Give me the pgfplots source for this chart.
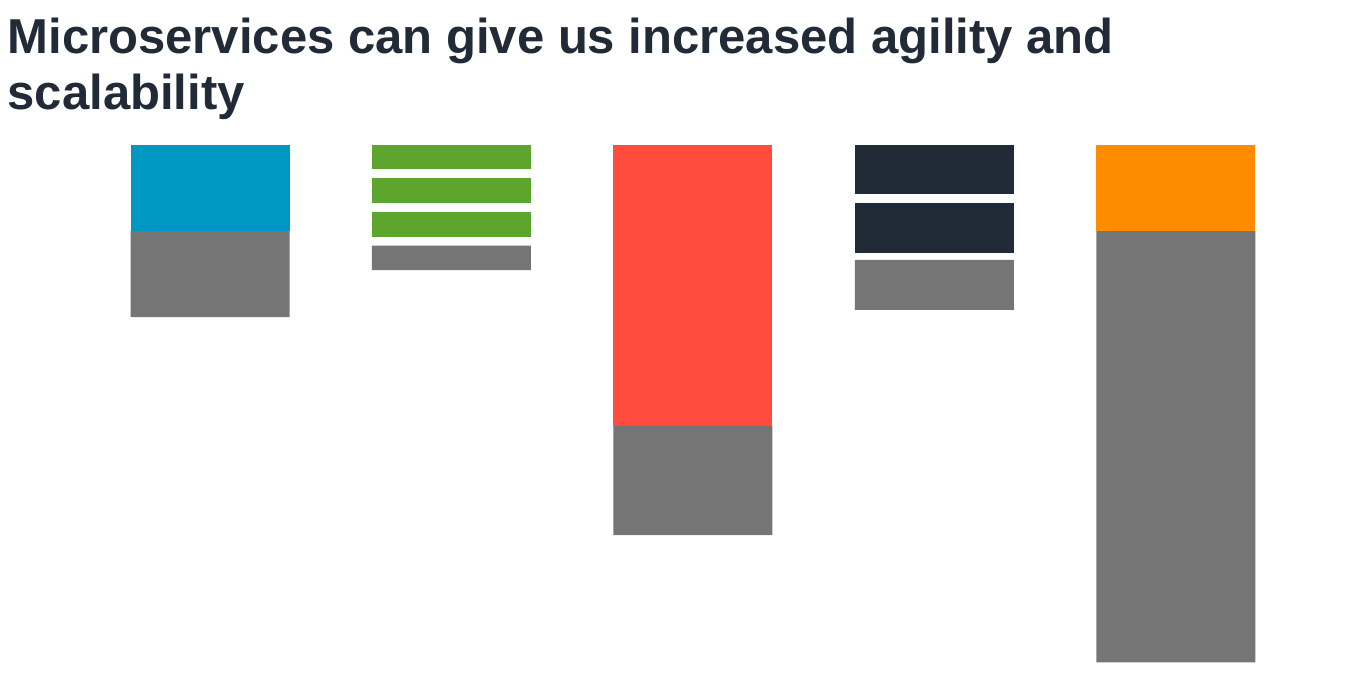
\documentclass[border=0pt]{standalone}
\usepackage{pgfplots}
\pgfplotsset{compat=1.18}
\usepackage{pgfplotstable}
\usepackage{fontspec}
\setmainfont{Liberation Sans}
\definecolor{cBlue}{HTML}{0098C3}
\definecolor{cGreen}{HTML}{5EA52E}
\definecolor{cRed}{HTML}{FF4C3D}
\definecolor{cDark}{HTML}{212B38}
\definecolor{cOrange}{HTML}{FF8C00}
\definecolor{cGray}{HTML}{757575}
\definecolor{cTitle}{HTML}{212A37}
\pgfplotstableread{
x blue green1 red dark1 orange gap1 green2 dark2 gap2 green3 gap3 gray
0 1 0 0 0 0 0 0 0 0 0 0 1
1 0 0.285 0 0 0 0.101 0.290 0 0.104 0.290 0.101 0.285
2 0 0 3.261 0 0 0 0 0 0 0 0 1.264
3 0 0 0 0.575 0 0.101 0 0.580 0.081 0 0 0.580
4 0 0 0 0 1 0 0 0 0 0 0 5.0
}\data
\begin{document}
\begin{tikzpicture}
\path[use as bounding box] (0bp,0bp) rectangle (1352bp,698bp);
\node[anchor=base west, inner sep=0pt, font=\fontsize{49.2}{57}\selectfont\bfseries, text=cTitle] at (7.5bp,644.3bp) {Microservices can give us increased agility and};
\node[anchor=base west, inner sep=0pt, font=\fontsize{49.2}{57}\selectfont\bfseries, text=cTitle] at (7.5bp,588.3bp) {scalability};
\begin{axis}[at={(89.3bp,35.7bp)}, anchor=south west, scale only axis,
  width=1207.2bp, height=517.8bp, xmin=-0.5, xmax=4.5, ymin=0, ymax=6,
  y dir=reverse, hide axis, ybar stacked, bar width=159bp, clip=false]
\addplot[fill=cBlue, draw=none] table[x=x,y=blue]{\data};
\addplot[fill=cGreen, draw=none] table[x=x,y=green1]{\data};
\addplot[fill=cRed, draw=none] table[x=x,y=red]{\data};
\addplot[fill=cDark, draw=none] table[x=x,y=dark1]{\data};
\addplot[fill=cOrange, draw=none] table[x=x,y=orange]{\data};
\addplot[fill=none, draw=none] table[x=x,y=gap1]{\data};
\addplot[fill=cGreen, draw=none] table[x=x,y=green2]{\data};
\addplot[fill=cDark, draw=none] table[x=x,y=dark2]{\data};
\addplot[fill=none, draw=none] table[x=x,y=gap2]{\data};
\addplot[fill=cGreen, draw=none] table[x=x,y=green3]{\data};
\addplot[fill=none, draw=none] table[x=x,y=gap3]{\data};
\addplot[fill=cGray, draw=none] table[x=x,y=gray]{\data};
\end{axis}
\end{tikzpicture}
\end{document}
